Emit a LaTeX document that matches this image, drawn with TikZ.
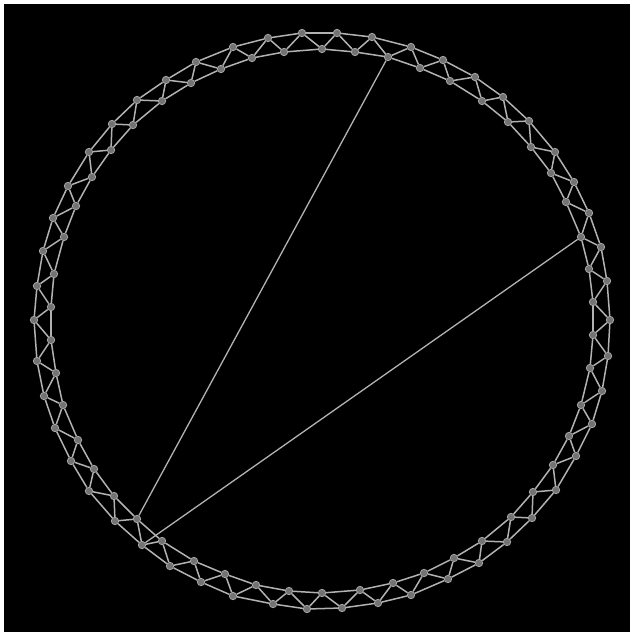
\documentclass[tikz,border=0pt]{standalone}
\usetikzlibrary{backgrounds}
\pgfdeclarelayer{edges}
\pgfsetlayers{background,edges,main}
\tikzset{
  vert/.style  = {circle, draw=black!35, fill=black!55, line width=0.4pt,
                  inner sep=0pt, minimum size=3.7pt},
  link/.style  = {draw=black!30, line width=0.75pt},
  chord/.style = {link, line width=0.65pt},
}

\begin{document}
\begin{tikzpicture}[x=0.5pt, y=-0.5pt]
  \useasboundingbox (0,0) rectangle (630,632);
  \begin{pgfonlayer}{background}
    \fill[white] (0,0) rectangle (630,632);
    \fill[black] (4,4) rectangle (630,632);
  \end{pgfonlayer}

  % ring: outer and inner vertices alternate, clockwise from the top
  \foreach \p [count=\k] in {
      (302,33),(322,49),(337,33),(355,52),(372,37),(388,57),(411,47),(420,68),
      (443,60),(450,81),(475,77),(482,101),(503,97),(508,122),(529,121),(531,147),
      (555,152),(551,173),(574,182),(566,202),(589,213),(581,237),(601,247),(589,269),
      (607,281),(593,302),(610,320),(593,335),(608,356),(590,368),(602,391),(581,405),
      (592,424),(569,436),(576,456),(553,465),(556,490),(533,492),(532,518),(511,517),
      (507,542),(482,541),(479,563),(454,558),(448,579),(424,573),(411,595),(393,583),
      (378,603),(360,590),(342,608),(322,593),(307,609),(289,591),(273,604),(256,585),
      (233,596),(225,574),(201,582),(194,561),(170,566),(162,541),(142,545),(137,519),
      (115,521),(114,496),(89,491),(94,469),(71,461),(78,440),(55,428),(63,405),
      (44,396),(56,373),(37,361),(51,340),(34,320),(51,307),(37,286),(54,274),
      (43,251),(64,237),(53,218),(76,206),(68,186),(92,177),(89,152),(111,150),
      (112,124),(133,125),(137,100),(162,101),(166,80),(191,83),(196,62),(221,69),
      (233,47),(252,58),(268,38),(284,52)}
    \node[vert] (n\k) at \p {};

  \begin{pgfonlayer}{edges}
    \foreach \i in {1,...,100} {
      \pgfmathtruncatemacro{\a}{mod(\i,100)+1}
      \pgfmathtruncatemacro{\b}{mod(\i+1,100)+1}
      \draw[link] (n\i) -- (n\a);
      \draw[link] (n\i) -- (n\b);
    }
    \draw[chord] (n6) -- (n64);
    \draw[chord] (n22) -- (n63);
  \end{pgfonlayer}
\end{tikzpicture}
\end{document}
